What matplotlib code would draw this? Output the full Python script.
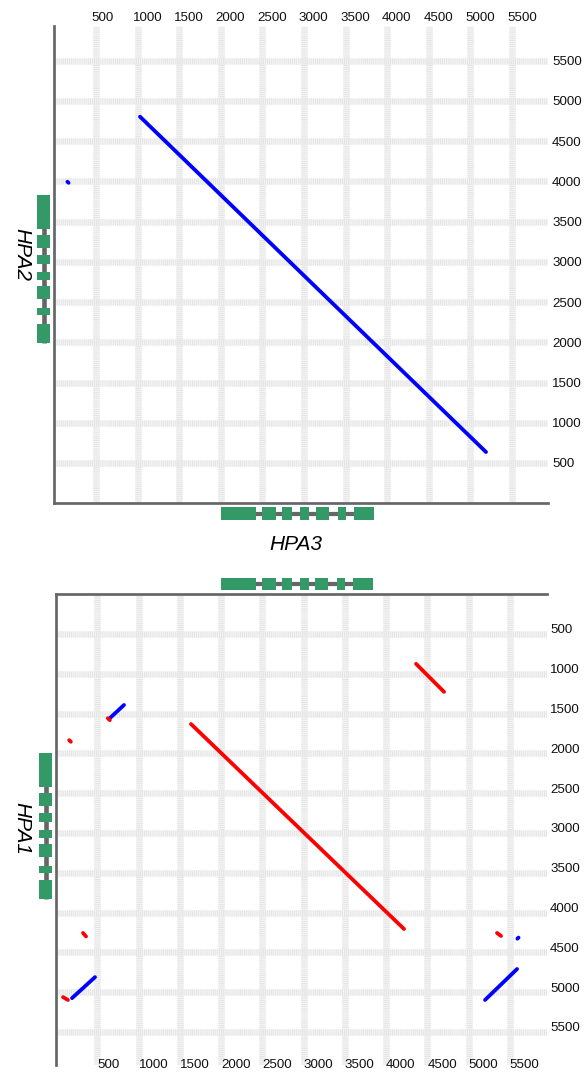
import matplotlib
matplotlib.use('Agg')
import matplotlib.pyplot as plt
from matplotlib.patches import Rectangle
from matplotlib.transforms import blended_transform_factory, ScaledTranslation

plt.rcParams['font.family'] = ['Liberation Sans', 'DejaVu Sans']
plt.rcParams['lines.scale_dashes'] = False

# ---------------- data ----------------
ticks = [500, 1000, 1500, 2000, 2500, 3000, 3500, 4000, 4500, 5000, 5500]
tick_labels = [str(t) for t in ticks]

# gene models (exon start, exon end)
hpa3_exons = [(2000, 2424), (2497, 2665), (2738, 2858), (2955, 3063),
              (3142, 3298), (3408, 3504), (3600, 3841)]
hpa2_exons = [(3408, 3831), (3172, 3333), (2973, 3085), (2774, 2874),
              (2538, 2700), (2339, 2426), (1991, 2227)]
hpa1_exons = [(1995, 2422), (2497, 2661), (2749, 2862), (2962, 3063),
              (3138, 3302), (3415, 3503), (3591, 3829)]

# dot-plot hits: (x start, y start, x end, y end)
top_reverse_hits = [(1029, 4804, 5188, 636),
                    (157, 3995, 170, 3982)]
bottom_reverse_hits = [(642, 1568, 824, 1392),
                       (194, 5075, 473, 4811),
                       (5200, 5098, 5588, 4709),
                       (5592, 4328, 5606, 4314)]
bottom_forward_hits = [(1636, 1631, 4218, 4206),
                       (4364, 875, 4703, 1227),
                       (327, 4256, 364, 4300),
                       (85, 5062, 145, 5098),
                       (5345, 4256, 5394, 4294),
                       (160, 1834, 180, 1854),
                       (628, 1558, 652, 1582)]

# ---------------- styling ----------------
W, H = 587, 1074
PX = 0.72  # points per pixel at 100 dpi
GREEN = '#339966'
INTRON = '#666666'
SPINE = '#666666'
BLUE = '#0000ff'
RED = '#ff0000'
TICK_FS = 9.6
LABEL_FS = 15

fig = plt.figure(figsize=(W / 100, H / 100), dpi=100)


def axes_px(left, top, right, bottom):
    return fig.add_axes([left / W, 1 - bottom / H, (right - left) / W, (bottom - top) / H])


def style_axes(ax):
    ax.set_facecolor('white')
    ax.grid(True, color='#e4e4e4', linewidth=6.5 * PX, linestyle=(0, (0.75, 0.75)),
            gapcolor='#f4f4f4', zorder=0)
    ax.set_axisbelow(True)
    ax.tick_params(length=0, labelsize=TICK_FS, colors='#111111')
    for s in ax.spines.values():
        s.set_color(SPINE)
        s.set_linewidth(2.7 * PX)


def draw_hits(ax, hits, color):
    for x0, y0, x1, y1 in hits:
        ax.plot([x0, x1], [y0, y1], color=color, lw=3.8 * PX,
                solid_capstyle='round', zorder=3)


def gene_horizontal(ax, exons, py_top, py_bot):
    tr = blended_transform_factory(ax.transData, fig.transFigure)
    yb = 1 - py_bot / H
    hgt = (py_bot - py_top) / H
    ymid = 1 - (py_top + py_bot) / 2 / H
    starts = [e[0] for e in exons]
    ends = [e[1] for e in exons]
    ax.plot([min(starts), max(ends)], [ymid, ymid], color=INTRON, lw=4.2 * PX,
            transform=tr, clip_on=False, solid_capstyle='butt', zorder=4)
    for s, e in exons:
        ax.add_patch(Rectangle((s, yb), e - s, hgt, transform=tr, color=GREEN,
                               clip_on=False, zorder=5, lw=0))


def gene_vertical(ax, exons, px_left, px_right):
    tr = blended_transform_factory(fig.transFigure, ax.transData)
    xl = px_left / W
    wid = (px_right - px_left) / W
    xmid = (px_left + px_right) / 2 / W
    starts = [e[0] for e in exons]
    ends = [e[1] for e in exons]
    ax.plot([xmid, xmid], [min(starts), max(ends)], color=INTRON, lw=4.6 * PX,
            transform=tr, clip_on=False, solid_capstyle='butt', zorder=4)
    for s, e in exons:
        ax.add_patch(Rectangle((xl, s), wid, e - s, transform=tr, color=GREEN,
                               clip_on=False, zorder=5, lw=0))


def shift(labels, dx_px, dy_px):
    off = ScaledTranslation(dx_px / 100, dy_px / 100, fig.dpi_scale_trans)
    for lab in labels:
        lab.set_transform(lab.get_transform() + off)


# ---------------- top panel: HPA3 (x) vs HPA2 (y) ----------------
ax1 = axes_px(54.4, 26, 548, 503.2)
style_axes(ax1)
ax1.set_xlim(0, 5933)
ax1.set_ylim(0, 5931)
ax1.spines['top'].set_visible(False)
ax1.spines['right'].set_visible(False)
ax1.xaxis.tick_top()
ax1.yaxis.tick_right()
ax1.set_xticks(ticks, tick_labels, ha='left')
ax1.set_yticks(ticks, tick_labels, ha='left')
ax1.tick_params(axis='x', pad=1.8)
ax1.tick_params(axis='y', pad=3)
shift(ax1.get_xticklabels(), -5, 0)
draw_hits(ax1, top_reverse_hits, BLUE)
gene_horizontal(ax1, hpa3_exons, 507, 520)
gene_vertical(ax1, hpa2_exons, 37, 50)

# ---------------- bottom panel: HPA3 (x) vs HPA1 (y) ----------------
ax2 = axes_px(56, 594.2, 547, 1065)
style_axes(ax2)
ax2.set_xlim(0, 5951)
ax2.set_ylim(5915, 0)
ax2.spines['bottom'].set_visible(False)
ax2.spines['right'].set_visible(False)
ax2.yaxis.tick_right()
ax2.set_xticks(ticks, tick_labels, ha='left')
ax2.set_yticks(ticks, tick_labels, ha='left')
ax2.tick_params(axis='x', pad=-4.5)
ax2.tick_params(axis='y', pad=2.2)
shift(ax2.get_yticklabels(), 0, 5)
draw_hits(ax2, bottom_reverse_hits, BLUE)
draw_hits(ax2, bottom_forward_hits, RED)
gene_horizontal(ax2, hpa3_exons, 578, 590)
gene_vertical(ax2, hpa1_exons, 39, 52)

# ---------------- sequence names ----------------
fig.text(296 / W, 1 - 545 / H, 'HPA3', fontsize=LABEL_FS, style='italic',
         ha='center', va='center')
fig.text(21.5 / W, 1 - 254 / H, 'HPA2', fontsize=LABEL_FS, style='italic',
         ha='center', va='center', rotation=-90)
fig.text(21.5 / W, 1 - 828 / H, 'HPA1', fontsize=LABEL_FS, style='italic',
         ha='center', va='center', rotation=-90)

fig.savefig('out.png', dpi=100, facecolor='white')
